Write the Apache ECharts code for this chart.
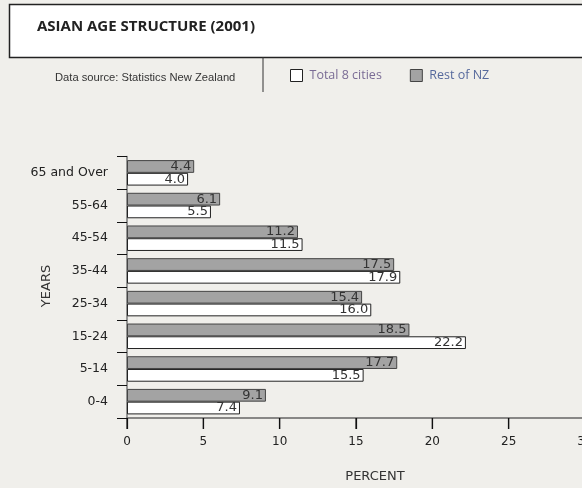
<!DOCTYPE html>
<html>
<head>
<meta charset="utf-8">
<script src="https://cdn.jsdelivr.net/npm/echarts@6/dist/echarts.min.js"></script>
<style>
html,body{margin:0;padding:0;background:#f0efeb;}
#chart{width:582px;height:488px;}
</style>
</head>
<body>
<div id="chart"></div>
<script>
const categories = ['0-4', '5-14', '15-24', '25-34', '35-44', '45-54', '55-64', '65 and Over'];
const total8Cities = [7.4, 15.5, 22.2, 16.0, 17.9, 11.5, 5.5, 4.0];
const restOfNZ = [9.1, 17.7, 18.5, 15.4, 17.5, 11.2, 6.1, 4.4];
const xTicks = { min: 0, max: 30, interval: 5 };
const xTickValues = [0, 5, 10, 15, 20, 25, 30];

const chart = echarts.init(document.getElementById('chart'), null, { renderer: 'canvas' });
const labelStyle = {
  show: true,
  position: 'insideRight',
  distance: 3,
  fontFamily: 'DejaVu Sans',
  fontSize: 13,
  color: '#333',
  formatter: p => p.value.toFixed(1)
};
chart.setOption({
  backgroundColor: '#f0efeb',
  animation: false,
  textStyle: { fontFamily: 'DejaVu Sans' },
  grid: { left: 127, width: 458, top: 156.5, bottom: 70, outerBoundsMode: 'none', containLabel: false },
  legend: {
    left: 290, top: 69, padding: 0,
    itemWidth: 12, itemHeight: 12, itemGap: 28,
    icon: 'rect',
    data: [
      { name: 'Total 8 cities', textStyle: { color: '#7a6c95' } },
      { name: 'Rest of NZ', textStyle: { color: '#56699c' } }
    ],
    textStyle: { fontFamily: 'Open Sans', fontSize: 12.5, padding: [0, 0, 0, 2] },
    itemStyle: { borderWidth: 1 }
  },
  xAxis: {
    type: 'value',
    min: xTicks.min, max: xTicks.max, interval: xTicks.interval,
    axisLine: { show: true, onZero: false, lineStyle: { color: '#666', width: 1.5 } },
    axisTick: { show: true, inside: false, length: 11, lineStyle: { color: '#111', width: 1.2 } },
    axisLabel: { color: '#222', fontSize: 12, margin: 18, fontFamily: 'DejaVu Sans' },
    splitLine: { show: false }
  },
  yAxis: {
    type: 'category',
    data: categories,
    axisLine: { show: true, onZero: false, lineStyle: { color: '#777', width: 1.5 } },
    axisTick: { show: true, length: 10, lineStyle: { color: '#111', width: 1 } },
    axisLabel: { color: '#222', fontSize: 12.5, margin: 19, fontFamily: 'DejaVu Sans' }
  },
  series: [
    {
      name: 'Rest of NZ', type: 'bar', data: restOfNZ,
      barGap: '0%', barCategoryGap: '22%',
      itemStyle: { color: '#a3a3a3', borderColor: '#444', borderWidth: 1 },
      label: labelStyle
    },
    {
      name: 'Total 8 cities', type: 'bar', data: total8Cities,
      barGap: '0%', barCategoryGap: '22%',
      itemStyle: { color: '#ffffff', borderColor: '#222', borderWidth: 1 },
      label: labelStyle
    },
    {
      name: 'xTicks', type: 'custom', silent: true, clip: false, z: 5,
      encode: { x: 0, y: 1 },
      data: xTickValues.map(v => [v, 0]),
      renderItem: (params, api) => {
        const x = api.coord([api.value(0), 0])[0];
        const cs = params.coordSys;
        const yb = cs.y + cs.height;
        return {
          type: 'line',
          shape: { x1: x, y1: yb, x2: x, y2: yb + 11 },
          style: { stroke: '#111', lineWidth: 1.2 }
        };
      }
    }
  ],
  graphic: [
    { type: 'rect', z: -1, shape: { x: 9.5, y: 4.5, width: 620, height: 53 },
      style: { fill: '#ffffff', stroke: '#222', lineWidth: 1.5 } },
    { type: 'text', left: 37, top: 19,
      style: { text: 'ASIAN AGE STRUCTURE (2001)', font: 'bold 15px "Open Sans"', fill: '#222' } },
    { type: 'line', shape: { x1: 263, y1: 57, x2: 263, y2: 92 }, style: { stroke: '#333', lineWidth: 1 } },
    { type: 'text', left: 55, top: 72,
      style: { text: 'Data source: Statistics New Zealand', font: '11.2px "Liberation Sans"', fill: '#333' } },
    { type: 'text', x: 375, y: 477,
      style: { text: 'PERCENT', font: '13px "DejaVu Sans"', fill: '#333', align: 'center', verticalAlign: 'middle' } },
    { type: 'text', x: 47, y: 286, rotation: Math.PI / 2,
      style: { text: 'YEARS', font: '13px "DejaVu Sans"', fill: '#333', align: 'center', verticalAlign: 'middle' } }
  ]
});
</script>
</body>
</html>
